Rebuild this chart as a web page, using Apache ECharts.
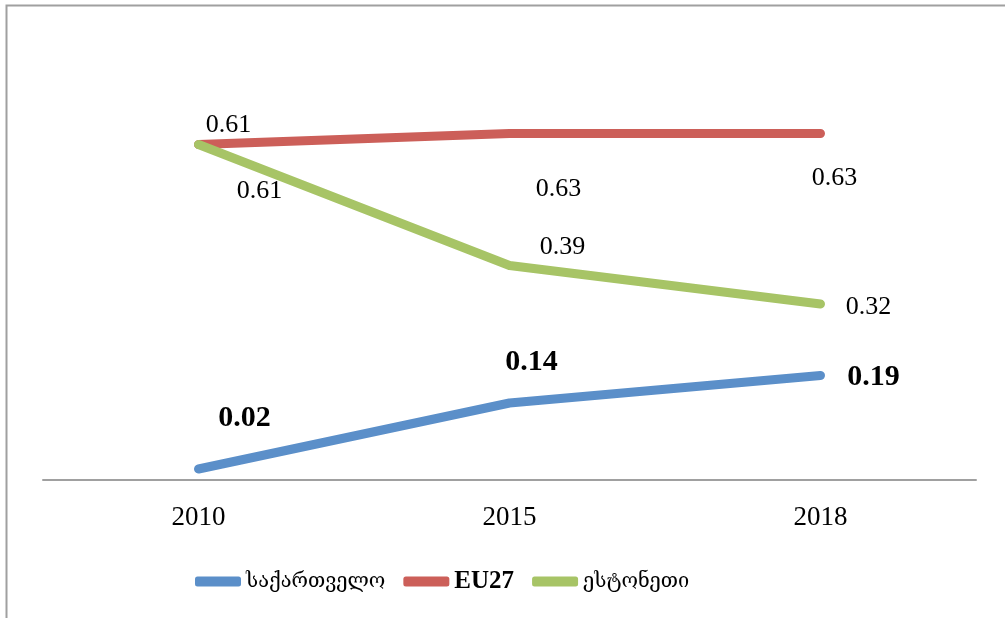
<!DOCTYPE html>
<html>
<head>
<meta charset="utf-8">
<script src="https://cdn.jsdelivr.net/npm/echarts@6/dist/echarts.min.js"></script>
<style>
  html, body { margin: 0; padding: 0; background: #fff; }
  #chart { width: 1005px; height: 618px; }
</style>
</head>
<body>
<div id="chart"></div>
<script>
// data
const years = ['2010', '2015', '2018'];
const georgia = [0.02, 0.14, 0.19];
const eu27 = [0.61, 0.63, 0.63];
const estonia = [0.61, 0.39, 0.32];

// label offsets (px, from the point)
const georgiaOffsets = [[46, -51], [22, -41], [53, 2]];
const euOffsets = [[30, -19], [49, 56], [14, 45]];
const estoniaOffsets = [[61, 47], [53, -18], [48, 3]];

const chart = echarts.init(document.getElementById('chart'));

function points(values, offsets) {
    return values.map(function (v, i) {
        return { value: v, label: { offset: offsets[i] } };
    });
}

function lineSeries(name, color, values, offsets, bold) {
    return {
        name: name,
        type: 'line',
        data: points(values, offsets),
        symbol: 'circle',
        symbolSize: 0.1,
        itemStyle: { color: color },
        lineStyle: { width: 9, color: color, cap: 'round', join: 'round' },
        label: {
            show: true,
            position: 'inside',
            align: 'center',
            verticalAlign: 'middle',
            color: '#000',
            fontFamily: 'Liberation Serif',
            fontSize: bold ? 30 : 26,
            fontWeight: bold ? 'bold' : 'normal'
        },
        emphasis: { disabled: true },
        animation: false
    };
}

chart.setOption({
    backgroundColor: '#fff',
    animation: false,
    grid: {
        left: 43,
        right: 29,
        top: 95,
        bottom: 138,
        outerBoundsMode: 'none'
    },
    xAxis: {
        type: 'category',
        data: years,
        boundaryGap: true,
        axisLine: { lineStyle: { color: '#a0a0a0', width: 2 } },
        axisTick: { show: false },
        axisLabel: {
            color: '#000',
            fontFamily: 'Liberation Serif',
            fontSize: 27,
            margin: 24
        }
    },
    yAxis: {
        type: 'value',
        min: 0,
        max: 0.7,
        show: false,
        splitLine: { show: false }
    },
    legend: {
        left: 190,
        top: 564,
        icon: 'roundRect',
        itemWidth: 46,
        itemHeight: 10,
        itemGap: 18,
        data: ['საქართველო', 'EU27', 'ესტონეთი'],
        formatter: function (name) {
            return name === 'EU27' ? '{b|EU27}' : name;
        },
        textStyle: {
            color: '#000',
            fontFamily: 'DejaVu Serif',
            fontSize: 20,
            rich: {
                b: {
                    fontFamily: 'Liberation Serif',
                    fontWeight: 'bold',
                    fontSize: 25,
                    color: '#000'
                }
            }
        }
    },
    graphic: [{
        type: 'rect',
        left: 4,
        top: 3,
        shape: { width: 1100, height: 700 },
        style: { fill: 'none', stroke: '#a0a0a0', lineWidth: 2 },
        silent: true
    }],
    series: [
        lineSeries('საქართველო', '#5b8fc9', georgia, georgiaOffsets, true),
        lineSeries('EU27', '#cc5f59', eu27, euOffsets, false),
        lineSeries('ესტონეთი', '#a7c466', estonia, estoniaOffsets, false)
    ]
});
</script>
</body>
</html>
